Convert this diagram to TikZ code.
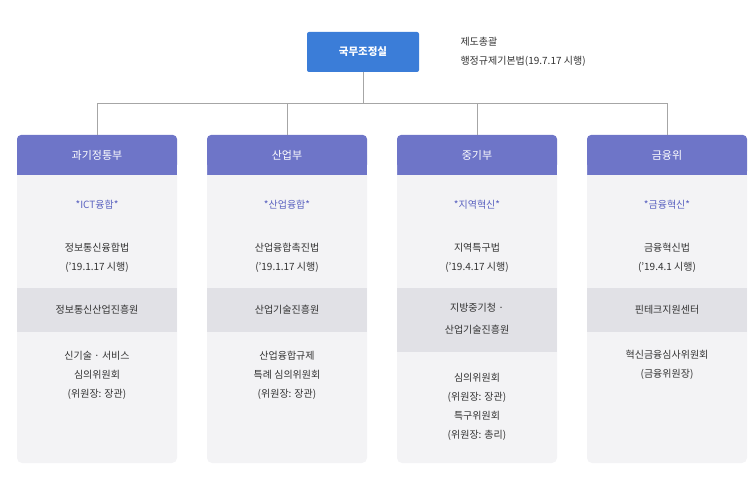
\documentclass[tikz,border=0pt]{standalone}
\usepackage{fontspec}
\setmainfont{Noto Sans CJK KR}
\usetikzlibrary{calc}
\definecolor{topblue}{HTML}{3B7DD8}
\definecolor{headviolet}{HTML}{6E75C8}
\definecolor{bodygray}{HTML}{F3F3F5}
\definecolor{bandgray}{HTML}{E1E1E6}
\definecolor{tagviolet}{HTML}{5A62C0}
\definecolor{txt}{HTML}{333333}
\tikzset{
  head/.style={fill=headviolet, text=white, minimum width=160, minimum height=40,
    rounded corners=4, font=\fontsize{11}{13}\selectfont},
  body/.style={fill=bodygray, rounded corners=5},
  band/.style={fill=bandgray},
  txtline/.style={text=txt, font=\fontsize{10}{19}\selectfont, align=center},
  tag/.style={text=tagviolet, font=\fontsize{10}{12}\selectfont},
  link/.style={draw=gray!70, line width=0.6}
}
\begin{document}
\begin{tikzpicture}[x=1pt,y=-1pt]
  \useasboundingbox (0,0) rectangle (755,486);
  % top office
  \node[fill=topblue, text=white, rounded corners=2, minimum width=112, minimum height=40,
    font=\bfseries\fontsize{10.5}{12}\selectfont] (top) at (363,52) {국무조정실};
  \node[txtline, anchor=west, align=left] (topnote) at (457,52) {제도총괄\\행정규제기본법(19.7.17 시행)};
  % column bodies and bands
  \foreach \cx/\bh in {97/44, 287/44, 477/64, 667/44} {
    \fill[body] (\cx-80,150) rectangle (\cx+80,463);
    \fill[band] (\cx-80,288) rectangle (\cx+80,288+\bh);
  }
  % headers
  \node[head] (h1) at (97,155)  {과기정통부};
  \node[head] (h2) at (287,155) {산업부};
  \node[head] (h3) at (477,155) {중기부};
  \node[head] (h4) at (667,155) {금융위};
  \fill[headviolet] (17,165) rectangle (747,175);
  \fill[white] (177,165) rectangle (207,175) (367,165) rectangle (397,175) (557,165) rectangle (587,175);
  % connectors
  \coordinate (hub) at ($(top.south)+(0,31)$);
  \draw[link] (top.south) -- (hub);
  \draw[link] (h1.north) |- (hub) -| (h4.north);
  \draw[link] (h2.north) -- (h2.north |- hub);
  \draw[link] (h3.north) -- (h3.north |- hub);
  % tags
  \node[tag] (t1) at (97,205)  {*ICT융합*};
  \node[tag] (t2) at (287,205) {*산업융합*};
  \node[tag] (t3) at (477,205) {*지역혁신*};
  \node[tag] (t4) at (667,205) {*금융혁신*};
  % laws
  \node[txtline] (l1) at (97,258)  {정보통신융합법\\('19.1.17 시행)};
  \node[txtline] (l2) at (287,258) {산업융합촉진법\\('19.1.17 시행)};
  \node[txtline] (l3) at (477,258) {지역특구법\\('19.4.17 시행)};
  \node[txtline] (l4) at (667,258) {금융혁신법\\('19.4.1 시행)};
  % agencies
  \node[txtline] (a1) at (97,310)  {정보통신산업진흥원};
  \node[txtline] (a2) at (287,310) {산업기술진흥원};
  \node[txtline, font=\fontsize{10}{22}\selectfont] (a3) at (477,319) {지방중기청 ·\\산업기술진흥원};
  \node[txtline] (a4) at (667,310) {핀테크지원센터};
  % committees
  \node[txtline] (c1) at (97,375)  {신기술 · 서비스\\심의위원회\\(위원장: 장관)};
  \node[txtline] (c2) at (287,375) {산업융합규제\\특례 심의위원회\\(위원장: 장관)};
  \node[txtline] (c3) at (477,407) {심의위원회\\(위원장: 장관)\\특구위원회\\(위원장: 총리)};
  \node[txtline] (c4) at (667,365) {혁신금융심사위원회\\(금융위원장)};
\end{tikzpicture}
\end{document}
